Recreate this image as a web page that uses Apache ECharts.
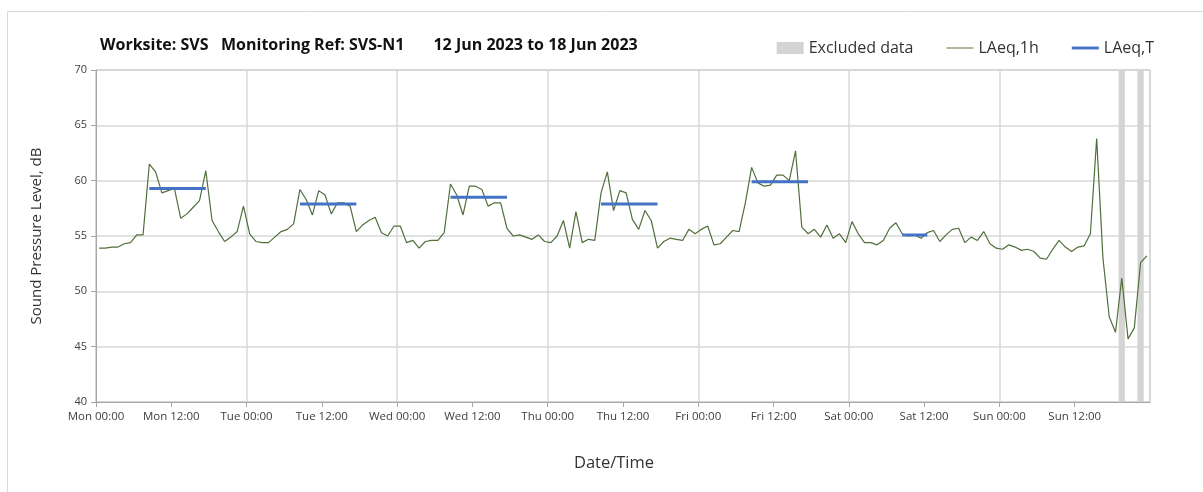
<!DOCTYPE html>
<html>
<head>
<meta charset="utf-8">
<script src="https://cdn.jsdelivr.net/npm/echarts@6/dist/echarts.min.js"></script>
<style>
  html, body { margin: 0; padding: 0; background: #fff; }
  #chart { width: 1203px; height: 492px; }
</style>
</head>
<body>
<div id="chart"></div>
<script>
// 每小时 LAeq,1h（从周一 00:00 起，每小时一个点）
const laeq1h = [
  53.9, 53.9, 54.0, 54.0, 54.3, 54.4, 55.1, 55.1, 61.5, 60.8,
  58.9, 59.1, 59.3, 56.6, 57.0, 57.6, 58.2, 60.9, 56.4, 55.4,
  54.5, 54.9, 55.4, 57.7, 55.2, 54.5, 54.4, 54.4, 54.9, 55.4,
  55.6, 56.1, 59.2, 58.3, 56.9, 59.1, 58.7, 57.0, 58.0, 58.0,
  57.7, 55.4, 56.0, 56.4, 56.7, 55.3, 55.0, 55.9, 55.9, 54.4,
  54.6, 53.9, 54.5, 54.6, 54.6, 55.3, 59.7, 58.7, 56.9, 59.5,
  59.5, 59.2, 57.7, 58.0, 58.0, 55.7, 55.0, 55.1, 54.9, 54.7,
  55.1, 54.5, 54.4, 55.0, 56.4, 53.9, 57.2, 54.4, 54.7, 54.6,
  58.9, 60.8, 57.3, 59.1, 58.9, 56.5, 55.6, 57.3, 56.4, 53.9,
  54.5, 54.8, 54.7, 54.6, 55.6, 55.2, 55.6, 55.9, 54.2, 54.3,
  54.9, 55.5, 55.4, 58.0, 61.2, 59.8, 59.5, 59.6, 60.5, 60.5,
  60.0, 62.7, 55.8, 55.2, 55.6, 54.9, 56.0, 54.8, 55.2, 54.4,
  56.3, 55.2, 54.4, 54.4, 54.2, 54.6, 55.7, 56.2, 55.2, 55.0,
  55.1, 54.8, 55.3, 55.5, 54.5, 55.1, 55.6, 55.7, 54.4, 54.9,
  54.6, 55.4, 54.3, 53.9, 53.8, 54.2, 54.0, 53.7, 53.8, 53.6,
  53.0, 52.9, 53.8, 54.6, 54.0, 53.6, 54.0, 54.1, 55.2, 63.8,
  53.0, 47.7, 46.3, 51.2, 45.7, 46.7, 52.6, 53.2
];

// LAeq,T 时段（起止小时序号 + 声级）
const periodStart = [8, 32, 56, 80, 104, 128];
const periodEnd = [17, 41, 65, 89, 113, 132];
const periodLevel = [59.3, 57.9, 58.5, 57.9, 59.9, 55.1];

// 剔除数据时段（小时）
const excludedFrom = [163, 166];
const excludedTo = [164, 167];

const dayNames = ['Mon', 'Tue', 'Wed', 'Thu', 'Fri', 'Sat', 'Sun'];
const yTicks = [40, 45, 50, 55, 60, 65, 70];

const FONT = 'Open Sans';
const TEXT_COLOR = '#333333';
const GREEN = '#506f3c';
const BLUE = '#4472c4';

// 点位于每小时中点
const hourlyData = laeq1h.map((v, i) => [i + 0.5, v]);

const periodData = [];
periodStart.forEach((s, k) => {
  for (let i = s; i <= periodEnd[k]; i++) {
    periodData.push([i + 0.5, periodLevel[k]]);
  }
  periodData.push([periodEnd[k] + 0.6, null]);
});

const excludedAreas = excludedFrom.map((f, k) => [{xAxis: f}, {xAxis: excludedTo[k]}]);

const myChart = echarts.init(document.getElementById('chart'));

const option = {
  animation: false,
  backgroundColor: '#fff',
  textStyle: {fontFamily: FONT},
  graphic: [{
    type: 'rect',
    left: 5, top: 9,
    shape: {width: 1250, height: 600},
    style: {fill: 'none', stroke: '#d9d9d9', lineWidth: 1},
    silent: true
  }],
  title: {
    text: 'Worksite: SVS   Monitoring Ref: SVS-N1       12 Jun 2023 to 18 Jun 2023',
    left: 95,
    top: 32,
    textStyle: {fontFamily: FONT, fontSize: 16, fontWeight: 'bold', color: '#111'}
  },
  legend: {
    right: 44,
    top: 35,
    itemWidth: 27,
    itemHeight: 12,
    itemGap: 33,
    textStyle: {fontFamily: FONT, fontSize: 16, color: TEXT_COLOR},
    data: [
      {name: 'Excluded data', icon: 'rect', itemStyle: {color: '#d4d4d4'}},
      {name: 'LAeq,1h', icon: 'path://M0,0L28,0L28,1L0,1Z', itemStyle: {color: GREEN}},
      {name: 'LAeq,T', icon: 'path://M0,0L28,0L28,3L0,3Z', itemStyle: {color: BLUE}}
    ]
  },
  grid: {left: 96, right: 53, top: 70, bottom: 90, show: true, borderColor: '#a6a6a6', borderWidth: 1},
  xAxis: [{
    type: 'value',
    min: 0,
    max: 168,
    interval: 12,
    name: 'Date/Time',
    nameLocation: 'middle',
    nameGap: 53,
    nameTextStyle: {fontFamily: FONT, fontSize: 16.5, color: TEXT_COLOR, padding: [0, 18, 0, 0]},
    axisLine: {show: true, lineStyle: {color: '#a6a6a6', width: 1}},
    axisTick: {show: true, length: 5, lineStyle: {color: '#a6a6a6'}},
    axisLabel: {
      fontFamily: FONT, fontSize: 11.5, color: '#404040', margin: 9,
      showMaxLabel: false,
      formatter: v => dayNames[Math.floor(v / 24) % 7] + ' ' + (v % 24 === 0 ? '00:00' : '12:00')
    },
    splitLine: {show: false}
  }, {
    // 只用来画每天的竖向网格线
    type: 'value',
    min: 0,
    max: 168,
    interval: 24,
    position: 'bottom',
    axisLine: {show: false},
    axisTick: {show: false},
    axisLabel: {show: false},
    splitLine: {show: true, lineStyle: {color: '#d9d9d9', width: 1.5}}
  }],
  yAxis: {
    type: 'value',
    min: yTicks[0],
    max: yTicks[yTicks.length - 1],
    interval: 5,
    name: 'Sound Pressure Level, dB',
    nameLocation: 'middle',
    nameGap: 52,
    nameTextStyle: {fontFamily: FONT, fontSize: 15, color: TEXT_COLOR},
    axisLine: {show: true, lineStyle: {color: '#a6a6a6', width: 1}},
    axisTick: {show: true, length: 5, lineStyle: {color: '#a6a6a6'}},
    axisLabel: {fontFamily: FONT, fontSize: 11, color: '#404040', margin: 9},
    splitLine: {show: true, lineStyle: {color: '#d9d9d9', width: 1.5}}
  },
  series: [
    {
      name: 'Excluded data',
      type: 'line',
      data: [],
      itemStyle: {color: '#d4d4d4'},
      markArea: {
        silent: true,
        itemStyle: {color: '#d4d4d4', opacity: 1},
        data: excludedAreas
      },
      z: 1
    },
    {
      name: 'LAeq,1h',
      type: 'line',
      data: hourlyData,
      showSymbol: false,
      symbol: 'none',
      lineStyle: {color: GREEN, width: 1.2},
      itemStyle: {color: GREEN},
      z: 3
    },
    {
      name: 'LAeq,T',
      type: 'line',
      data: periodData,
      showSymbol: false,
      symbol: 'none',
      connectNulls: false,
      lineStyle: {color: BLUE, width: 3},
      itemStyle: {color: BLUE},
      z: 4
    }
  ]
};

myChart.setOption(option);
window.addEventListener('resize', () => myChart.resize());
</script>
</body>
</html>
